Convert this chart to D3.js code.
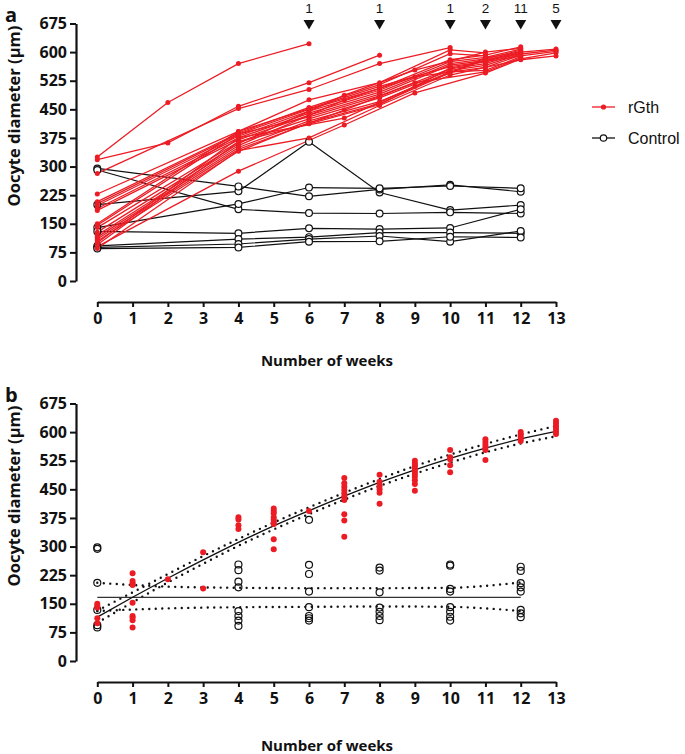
<!DOCTYPE html>
<html><head><meta charset="utf-8">
<script src="https://cdn.jsdelivr.net/npm/d3@7"></script>
<style>body{margin:0;background:#fff}svg{display:block}</style>
</head><body>
<svg id="chart" width="685" height="754"></svg>
<script>
// ---------- DATA ----------
const weekTicks = d3.range(0, 14);
const yTicks = [0, 75, 150, 225, 300, 375, 450, 525, 600, 675];
const seriesNames = ["rGth", "Control"];
const arrowWeeks = [6, 8, 10, 11, 12, 13];
const arrowLabels = ["1", "1", "1", "2", "11", "5"];

// Panel a: individual fish, [week, diameter]
const rgthFish = [
  [[0,325],[2,468],[4,570],[6,622]],
  [[0,318],[2,362],[4,458],[6,520],[8,592]],
  [[0,282],[4,452],[6,502],[8,570],[10,612]],
  [[0,228],[4,392],[6,475],[8,520],[10,606],[11,598]],
  [[0,208],[4,388],[6,455],[8,515],[10,596],[11,590]],
  [[0,203],[4,385],[6,450],[8,505],[10,580],[11,592],[12,614]],
  [[0,198],[4,380],[6,445],[8,500],[10,575],[11,586],[12,608]],
  [[0,190],[4,375],[6,440],[8,495],[10,570],[11,582],[12,605]],
  [[0,185],[4,370],[6,435],[8,490],[10,566],[11,578],[12,602]],
  [[0,150],[4,392],[6,452],[8,510],[10,562],[11,575],[12,600]],
  [[0,146],[4,385],[6,430],[8,485],[10,556],[11,570],[12,598]],
  [[0,140],[4,365],[6,425],[8,480],[10,552],[11,565],[12,595]],
  [[0,128],[4,360],[7,487],[9,553],[11,600],[12,610]],
  [[0,120],[4,355],[7,474],[9,535],[11,560],[12,592]],
  [[0,115],[4,350],[6,420],[8,470],[10,548],[11,552],[12,588]],
  [[0,110],[4,345],[7,448],[9,520],[11,548],[12,585]],
  [[0,105],[4,340],[6,415],[8,465],[10,546],[11,585],[12,600],[13,608]],
  [[0,100],[4,375],[7,427],[9,510],[11,580],[12,595],[13,605]],
  [[0,95],[4,365],[6,412],[8,462],[10,558],[11,575],[12,590],[13,602]],
  [[0,90],[4,288],[7,409],[9,493],[11,545],[12,582],[13,598]],
  [[0,85],[4,342],[6,375],[8,460],[10,540],[11,560],[12,580],[13,590]]
];
const controlFish = [
  [[0,200],[4,235],[6,365],[8,232],[10,186],[12,199]],
  [[0,295],[4,248],[6,222],[8,240],[10,252],[12,234]],
  [[0,291],[4,188],[6,178],[8,177],[10,180],[12,177]],
  [[0,140],[4,202],[6,245],[8,243],[10,249],[12,243]],
  [[0,130],[4,125],[6,138],[8,136],[10,139],[12,188]],
  [[0,92],[4,110],[6,115],[8,127],[10,127],[12,125]],
  [[0,88],[4,97],[6,110],[8,118],[10,103],[12,131]],
  [[0,85],[4,88],[6,103],[8,104],[10,116],[12,114]]
];

// Panel b: pooled measurements
const rgthWeeksB = [0,0,0,0,0, 1,1,1,1,1,1,1,1,1, 2, 3,3, 4,4,4,4, 5,5,5,5,5,5,5,5,5, 6,
  7,7,7,7,7,7,7,7,7,7, 8,8,8,8,8,8, 9,9,9,9,9,9,9,9,9,9, 10,10,10,10,10,
  11,11,11,11,11,11, 12,12,12,12,12, 13,13,13,13,13,13];
const rgthValuesB = [150,145,140,112,99, 230,210,204,199,153,118,114,107,88, 214, 285,190,
  377,371,356,346, 400,393,387,377,370,363,359,319,293, 393,
  480,466,457,448,440,431,422,385,368,326, 488,470,459,450,441,412,
  525,518,511,504,497,490,483,474,464,446, 553,534,529,513,495,
  581,574,567,560,553,527, 600,594,588,582,577, 630,623,616,609,602,595];
const controlWeeksB = [0,0,0,0,0,0, 4,4,4,4,4,4,4,4, 6,6,6,6,6,6,6,6,
  8,8,8,8,8,8,8, 10,10,10,10,10,10,10,10, 12,12,12,12,12,12,12,12];
const controlValuesB = [298,294,205,134,94,88, 253,238,208,193,131,118,106,92,
  370,252,228,182,141,118,112,106, 245,237,180,140,129,118,107,
  253,250,189,182,141,129,116,106, 247,236,204,193,182,134,125,115];

// Fitted curves and confidence bands, read at each week
const fitWeeksRgth = d3.range(0, 14);
const fitRgth = [115,167,217,265,311,354,394,432,468,501,531,558,582,602];
const fitRgthUpper = [132,180,228,275,320,363,403,441,477,511,541,569,594,616];
const fitRgthLower = [100,154,206,255,302,345,385,423,459,491,520,547,570,589];
const fitWeeksControl = [0,2,4,6,8,10,11,12];
const fitControl = [167,167,167,167,167,167,167,167];
const fitControlUpper = [205,195,192,191,191,192,197,206];
const fitControlLower = [131,138,141,142,143,142,138,131];

// ---------- DRAW ----------
const RED = "#ec1c24";
const svg = d3.select("#chart");
const x = d3.scaleLinear().domain([0, 13]).range([97.3, 556]);
const FONT = "'Open Sans', sans-serif";
const SANS = "'Liberation Sans', Arial, sans-serif";

function panel(offset, xAxisY, xTitleY, label) {
  const g = svg.append("g").attr("transform", `translate(0,${offset})`);
  const y = d3.scaleLinear().domain([0, 675]).range([281, 23.5]);
  const ya = g.append("g").attr("transform", "translate(76,0)")
    .call(d3.axisLeft(y).tickValues(yTicks).tickSize(6).tickSizeOuter(0).tickPadding(3));
  const xa = g.append("g").attr("transform", `translate(0,${xAxisY})`)
    .call(d3.axisBottom(x).tickValues(weekTicks).tickSize(5).tickSizeOuter(0).tickPadding(6));
  [ya, xa].forEach(a => {
    a.select(".domain").attr("stroke", "#111").attr("stroke-width", 2.2);
    a.selectAll(".tick line").attr("stroke", "#111").attr("stroke-width", 2);
    a.selectAll(".tick text").attr("font-family", FONT).attr("font-weight", "bold")
      .attr("font-size", 16).attr("fill", "#111");
  });
  g.append("text").attr("transform", "translate(20,116) rotate(-90)")
    .attr("text-anchor", "middle").attr("font-family", FONT).attr("font-weight", "bold")
    .attr("font-size", 16.5).attr("fill", "#111").text("Oocyte diameter (\u03bcm)");
  g.append("text").attr("x", 327).attr("y", xTitleY).attr("text-anchor", "middle")
    .attr("dominant-baseline", "central").attr("font-family", FONT).attr("font-weight", "bold")
    .attr("font-size", 15).attr("fill", "#111").text("Number of weeks");
  g.append("text").attr("x", 5).attr("y", 22).attr("font-family", FONT).attr("font-weight", "bold")
    .attr("font-size", 20).attr("fill", "#111").text(label);
  return {g, y};
}

// Panel a
{
  const {g, y} = panel(0, 302, 360, "a");
  const line = d3.line().x(d => x(d[0])).y(d => y(d[1]));
  controlFish.forEach(f => {
    g.append("path").attr("d", line(f)).attr("fill", "none").attr("stroke", "#111").attr("stroke-width", 1.2);
  });
  rgthFish.forEach(f => {
    g.append("path").attr("d", line(f)).attr("fill", "none").attr("stroke", RED).attr("stroke-width", 1.3);
  });
  controlFish.forEach(f => {
    g.selectAll(null).data(f).enter().append("circle")
      .attr("cx", d => x(d[0])).attr("cy", d => y(d[1])).attr("r", 3.4)
      .attr("fill", "#fff").attr("stroke", "#111").attr("stroke-width", 1.2);
  });
  rgthFish.forEach(f => {
    g.selectAll(null).data(f).enter().append("circle")
      .attr("cx", d => x(d[0])).attr("cy", d => y(d[1])).attr("r", 2.5).attr("fill", RED);
  });
  // arrows
  arrowWeeks.forEach((w, i) => {
    const cx = x(w);
    g.append("path").attr("d", `M${cx-5.5},20 L${cx+5.5},20 L${cx},29.5 Z`).attr("fill", "#111");
    g.append("text").attr("x", cx).attr("y", 12.5).attr("text-anchor", "middle")
      .attr("font-family", SANS).attr("font-size", 13.5).attr("fill", "#111").text(arrowLabels[i]);
  });
  // legend
  const lg = g.append("g");
  [[107, RED, true], [138, "#111", false]].forEach((c, i) => {
    lg.append("line").attr("x1", 592).attr("x2", 615).attr("y1", c[0]).attr("y2", c[0])
      .attr("stroke", c[1]).attr("stroke-width", 1.3);
    if (c[2]) lg.append("circle").attr("cx", 603.5).attr("cy", c[0]).attr("r", 2.6).attr("fill", RED);
    else lg.append("circle").attr("cx", 603.5).attr("cy", c[0]).attr("r", 3.2)
      .attr("fill", "#fff").attr("stroke", "#111").attr("stroke-width", 1.2);
    lg.append("text").attr("x", 628).attr("y", c[0]).attr("dominant-baseline", "central")
      .attr("font-family", SANS).attr("font-size", 16)
      .attr("fill", "#111").text(seriesNames[i]);
  });
}

// Panel b
{
  const {g, y} = panel(380, 302, 365, "b");
  const curve = d3.line().x(d => x(d[0])).y(d => y(d[1])).curve(d3.curveMonotoneX);
  const zip = (w, v) => w.map((ww, i) => [ww, v[i]]);
  const dotted = p => p.attr("fill", "none").attr("stroke", "#111").attr("stroke-width", 2.4)
    .attr("stroke-linecap", "round").attr("stroke-dasharray", "0 6.5");
  [fitControlUpper, fitControlLower].forEach(v =>
    dotted(g.append("path").attr("d", curve(zip(fitWeeksControl, v)))));
  [fitRgthUpper, fitRgthLower].forEach(v =>
    dotted(g.append("path").attr("d", curve(zip(fitWeeksRgth, v)))));
  g.append("path").attr("d", curve(zip(fitWeeksControl, fitControl))).attr("fill", "none")
    .attr("stroke", "#333").attr("stroke-width", 1.2);
  g.append("path").attr("d", curve(zip(fitWeeksRgth, fitRgth))).attr("fill", "none")
    .attr("stroke", "#111").attr("stroke-width", 1.3);
  g.selectAll(null).data(zip(controlWeeksB, controlValuesB)).enter().append("circle")
    .attr("cx", d => x(d[0])).attr("cy", d => y(d[1])).attr("r", 3.5)
    .attr("fill", "none").attr("stroke", "#111").attr("stroke-width", 1.2);
  g.selectAll(null).data(zip(rgthWeeksB, rgthValuesB)).enter().append("circle")
    .attr("cx", d => x(d[0])).attr("cy", d => y(d[1])).attr("r", 3).attr("fill", RED);
}
</script>
</body></html>
